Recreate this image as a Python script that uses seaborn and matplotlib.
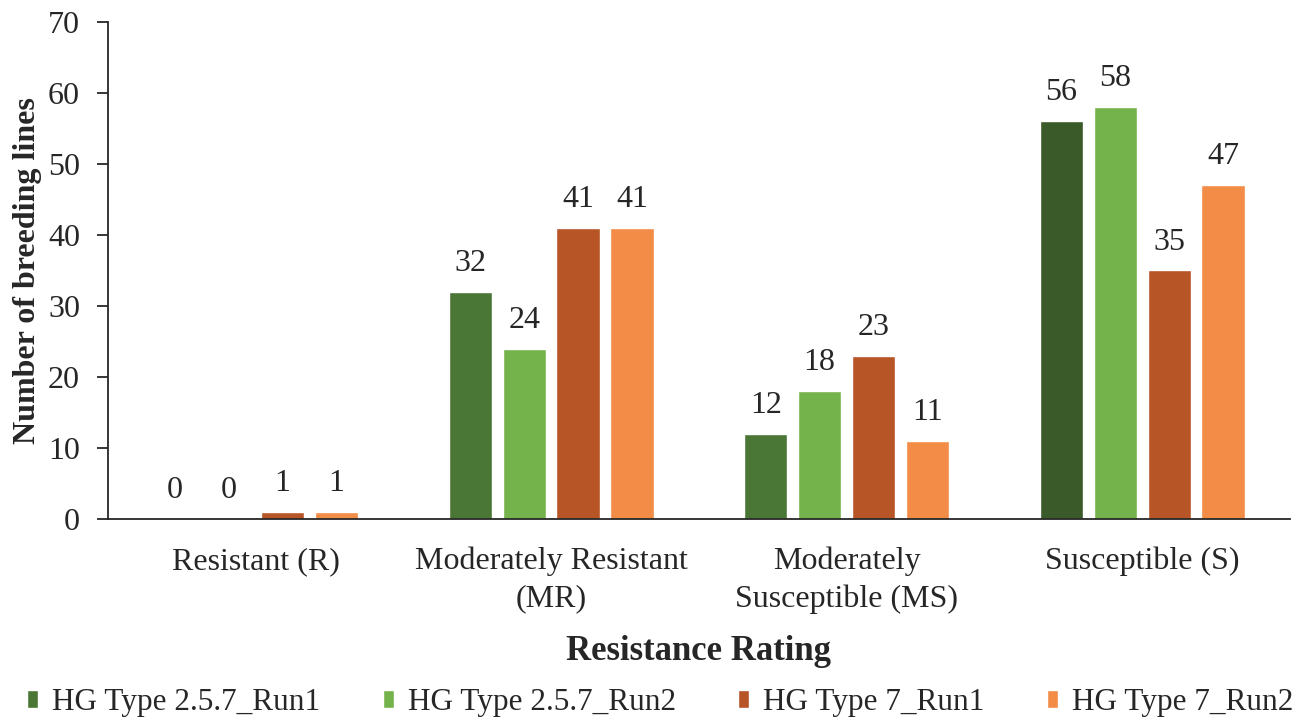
import pandas as pd
import matplotlib
matplotlib.use("Agg")
import matplotlib.pyplot as plt
import seaborn as sns

categories = ["Resistant (R)", "Moderately Resistant\n(MR)",
              "Moderately\nSusceptible (MS)", "Susceptible (S)"]
series = ["HG Type 2.5.7_Run1", "HG Type 2.5.7_Run2",
          "HG Type 7_Run1", "HG Type 7_Run2"]
run1_257 = [0, 32, 12, 56]
run2_257 = [0, 24, 18, 58]
run1_7 = [1, 41, 23, 35]
run2_7 = [1, 41, 11, 47]
colors = ["#4a7636", "#74b24c", "#b85526", "#f28c46"]

rows = []
for name, vals in zip(series, [run1_257, run2_257, run1_7, run2_7]):
    for cat, v in zip(categories, vals):
        rows.append({"Rating": cat, "Series": name, "Count": v})
df = pd.DataFrame(rows)

sns.set_style("white")
plt.rcParams["font.family"] = ["Liberation Serif", "DejaVu Serif"]

fig, ax = plt.subplots(figsize=(12.99, 7.26), dpi=100)
sns.barplot(data=df, x="Rating", y="Count", hue="Series", order=categories,
            hue_order=series, palette=colors, width=0.73, gap=0.2,
            saturation=1, ax=ax, legend=True)

# Excel coloured the first Susceptible bar a shade darker
ax.containers[0].patches[3].set_facecolor("#3b5a2a")

for cont in ax.containers:
    ax.bar_label(cont, fmt="%d", padding=10, fontsize=23)

ax.set_ylim(0, 70)
ax.set_yticks(range(0, 71, 10))
ax.set_xlim(-0.5, 3.5)
ax.tick_params(axis="y", labelsize=23, length=8, width=1.3, direction="out",
               left=True, pad=12)
ax.tick_params(axis="x", labelsize=23, length=0, pad=20)
for lab in ax.get_xticklabels():
    lab.set_linespacing(1.35)
for s in ["top", "right"]:
    ax.spines[s].set_visible(False)
ax.spines["left"].set_linewidth(1.3)
ax.spines["bottom"].set_linewidth(1.3)
ax.set_ylabel("Number of breeding lines", fontsize=23, fontweight="bold", labelpad=4)
ax.set_xlabel("Resistance Rating", fontsize=25, fontweight="bold", labelpad=15)

handles, labels = ax.get_legend_handles_labels()
ax.legend(handles, labels, loc="upper center", bbox_to_anchor=(0.4675, -0.283),
          ncol=4, frameon=False, fontsize=22.5, handlelength=0.35, handleheight=0.5,
          handletextpad=0.45, columnspacing=2.0)

fig.subplots_adjust(left=0.083, right=0.993, top=0.97, bottom=0.285)
fig.savefig("out.png", dpi=100)
